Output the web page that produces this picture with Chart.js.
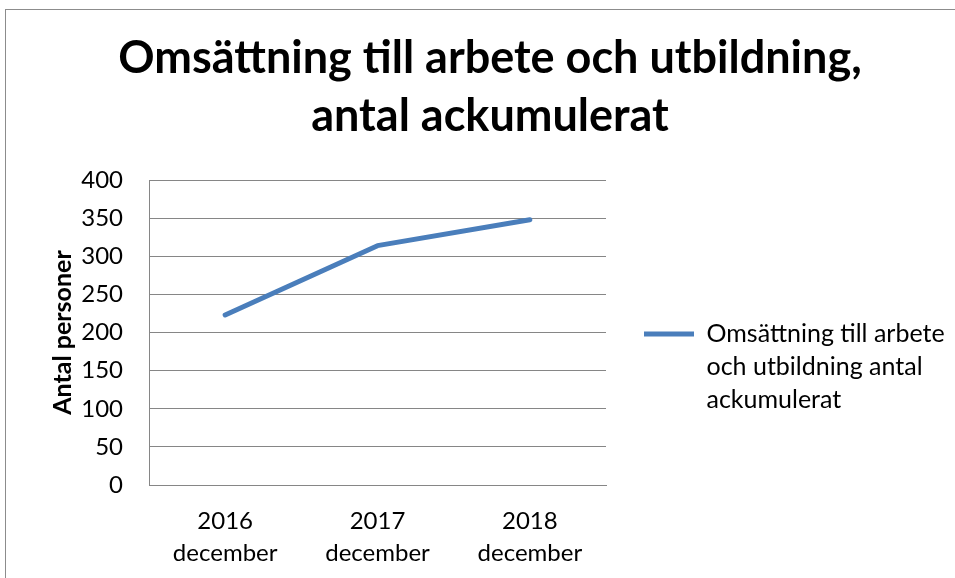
<!DOCTYPE html>
<html>
<head>
<meta charset="utf-8">
<script src="https://cdn.jsdelivr.net/npm/chart.js@4"></script>
<style>
  html, body { margin: 0; padding: 0; background: #fff; overflow: hidden; }
  #frame {
    position: absolute; left: 5px; top: 9px;
    width: 1000px; height: 600px;
    border: 1px solid #8c8c8c;
  }
  #myChart { display: block; }
</style>
</head>
<body>
<div id="frame">
  <canvas id="myChart" width="968" height="568"></canvas>
</div>
<script>
// data
var kategorier = [["2016", "december"], ["2017", "december"], ["2018", "december"]];
var antal = [223, 314, 348];
var serieNamn = ["Omsättning till arbete", "och utbildning antal", "ackumulerat"];
var titelRader = ["Omsättning till arbete och utbildning,", "antal ackumulerat"];
var yTitel = "Antal personer";

var font = "Lato, 'Open Sans', sans-serif";
var blå = "#4a7ebb";
var grå = "#868686";

// keep the legend column the same width as in the picture
var fastLegend = {
  id: 'fastLegend',
  afterInit: function (chart) {
    var fit = chart.legend.fit;
    chart.legend.fit = function () {
      fit.call(this);
      this.width = chart.width - 600;
    };
  }
};

var graficoContainer = document.getElementById("myChart");
var grafico = new Chart(graficoContainer, {
  type: 'line',
  data: {
    labels: kategorier,
    datasets: [{
      label: serieNamn.join(" "),
      data: antal,
      borderColor: blå,
      backgroundColor: blå,
      borderWidth: 5,
      borderCapStyle: 'round',
      borderJoinStyle: 'round',
      pointRadius: 0,
      pointHoverRadius: 0,
      tension: 0
    }]
  },
  options: {
    responsive: false,
    animation: false,
    layout: { padding: 0 },
    plugins: {
      title: {
        display: true,
        text: titelRader,
        color: '#000',
        font: { family: font, size: 45, weight: 'bold', lineHeight: 1.29 },
        padding: { top: 19, bottom: 35 }
      },
      legend: {
        position: 'right',
        fullSize: false,
        align: 'center',
        // empty title only pushes the entry down to where it sits in the picture
        title: { display: true, text: '', font: { size: 8, lineHeight: 1 }, padding: { top: 34.5, bottom: 34.5 } },
        labels: {
          font: { family: font, size: 25, lineHeight: 1.32 },
          color: '#000',
          boxWidth: 50,
          boxHeight: 5,
          padding: 38,
          generateLabels: function (chart) {
            return [{
              text: serieNamn,
              fillStyle: blå,
              strokeStyle: blå,
              fontColor: '#000',
              lineWidth: 0,
              datasetIndex: 0
            }];
          }
        }
      },
      tooltip: { enabled: false }
    },
    scales: {
      x: {
        offset: true,
        grid: { display: false, drawTicks: false },
        border: { display: true, color: grå, width: 1 },
        ticks: {
          color: '#000',
          font: { family: font, size: 24, lineHeight: 1.33 },
          padding: 20,
          maxRotation: 0
        },
        afterFit: function (scale) { scale.height = 93; }
      },
      y: {
        min: 0,
        max: 400,
        ticks: {
          stepSize: 50,
          color: '#000',
          font: { family: font, size: 24 },
          padding: 26
        },
        grid: { color: grå, lineWidth: 1, drawTicks: false },
        border: { display: true, color: grå, width: 1 },
        title: {
          display: true,
          text: yTitel,
          color: '#000',
          font: { family: font, size: 25, weight: 'bold', lineHeight: 1.2 },
          padding: { top: 42, bottom: 0 }
        },
        afterFit: function (scale) { scale.width = 143; }
      }
    }
  },
  plugins: [fastLegend]
});
</script>
</body>
</html>
